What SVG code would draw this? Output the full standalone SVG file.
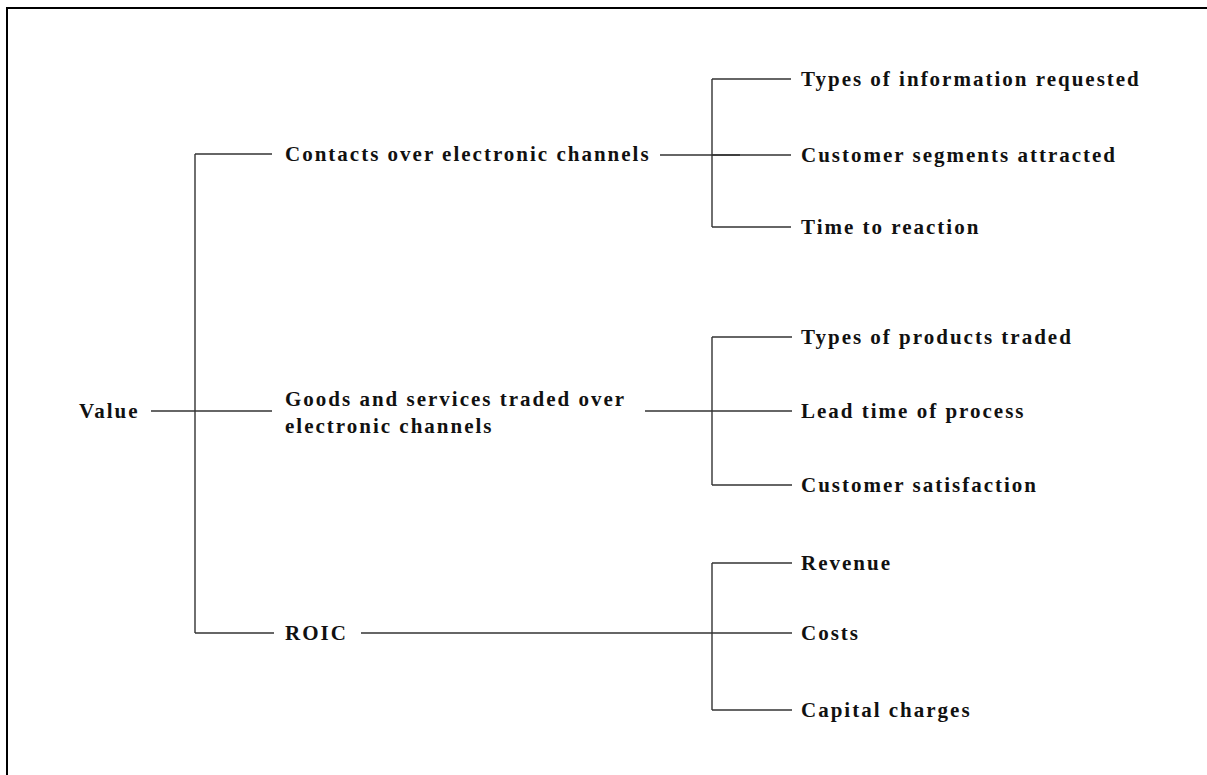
<svg xmlns="http://www.w3.org/2000/svg" width="1207" height="775" viewBox="0 0 1207 775">
  <style>
    .lbl { font-family: "Liberation Serif", "Times New Roman", serif; font-weight: bold; font-size: 21px; letter-spacing: 2px; fill: #111; }
    .ln { stroke: #333; stroke-width: 1.4; fill: none; }
  </style>
  <rect x="0" y="0" width="1207" height="775" fill="#fff"/>
  <!-- frame -->
  <rect x="7" y="8" width="1220" height="790" fill="none" stroke="#000" stroke-width="2"/>

  <g id="connectors">
    <!-- root to first level -->
    <path class="ln" d="M151,411 H272"/>
    <path class="ln" d="M195,154 V633"/>
    <path class="ln" d="M195,154 H272"/>
    <path class="ln" d="M195,633 H274"/>
    <!-- contacts branch -->
    <path class="ln" d="M660,155 H740"/>
    <path class="ln" d="M712,79 V227"/>
    <path class="ln" d="M712,79 H791"/>
    <path class="ln" d="M712,155 H791"/>
    <path class="ln" d="M712,227 H791"/>
    <!-- goods branch -->
    <path class="ln" d="M645,411 H712"/>
    <path class="ln" d="M712,337 V485"/>
    <path class="ln" d="M712,337 H792"/>
    <path class="ln" d="M712,411 H792"/>
    <path class="ln" d="M712,485 H792"/>
    <!-- roic branch -->
    <path class="ln" d="M361,633 H712"/>
    <path class="ln" d="M712,563 V710"/>
    <path class="ln" d="M712,563 H792"/>
    <path class="ln" d="M712,633 H792"/>
    <path class="ln" d="M712,710 H792"/>
  </g>

  <g id="value"><text class="lbl" x="79" y="418">Value</text></g>
  <g id="contacts"><text class="lbl" x="285" y="161">Contacts over electronic channels</text></g>
  <g id="goods"><text class="lbl" x="285" y="406">Goods and services traded over</text><text class="lbl" x="285" y="433">electronic channels</text></g>
  <g id="roic"><text class="lbl" x="285" y="640">ROIC</text></g>

  <g id="info-types"><text class="lbl" x="801" y="86">Types of information requested</text></g>
  <g id="segments"><text class="lbl" x="801" y="162">Customer segments attracted</text></g>
  <g id="reaction-time"><text class="lbl" x="801" y="234">Time to reaction</text></g>

  <g id="product-types"><text class="lbl" x="801" y="344">Types of products traded</text></g>
  <g id="lead-time"><text class="lbl" x="801" y="418">Lead time of process</text></g>
  <g id="satisfaction"><text class="lbl" x="801" y="492">Customer satisfaction</text></g>

  <g id="revenue"><text class="lbl" x="801" y="570">Revenue</text></g>
  <g id="costs"><text class="lbl" x="801" y="640">Costs</text></g>
  <g id="capital"><text class="lbl" x="801" y="717">Capital charges</text></g>
</svg>
